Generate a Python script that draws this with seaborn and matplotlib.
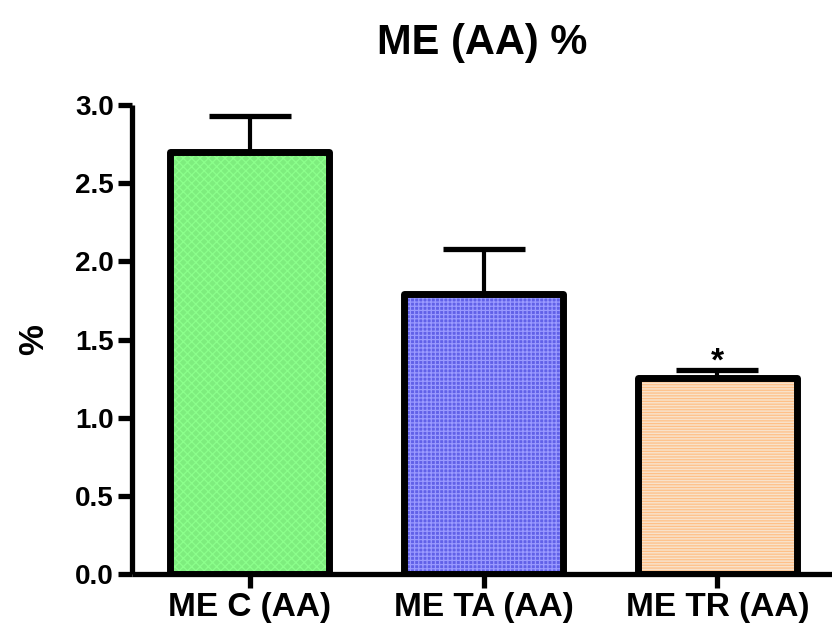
import matplotlib
matplotlib.use("Agg")
import matplotlib.pyplot as plt
import seaborn as sns
import pandas as pd
from matplotlib.patches import Rectangle

categories = ["ME C (AA)", "ME TA (AA)", "ME TR (AA)"]
means = [2.70, 1.79, 1.255]
errors = [0.23, 0.29, 0.05]
significance = ["", "", "*"]
y_ticks = [0.0, 0.5, 1.0, 1.5, 2.0, 2.5, 3.0]

face_colors = ["#6CFF6C", "#4A4AFF", "#FFE2C4"]
hatch_colors = ["#8CFF8C", "#9A9AFF", "#FFC088"]
hatches = ["xxxx", "++++", "------"]

sns.set_theme(style="ticks", rc={
    "text.color": "black", "axes.labelcolor": "black",
    "xtick.color": "black", "ytick.color": "black",
    "axes.edgecolor": "black"})
plt.rcParams["font.family"] = ["Liberation Sans", "DejaVu Sans"]
plt.rcParams["font.weight"] = "bold"
plt.rcParams["hatch.linewidth"] = 0.9

df = pd.DataFrame({"group": categories, "value": means})

fig = plt.figure(figsize=(8.32, 6.31), dpi=100)
ax = fig.add_axes([132 / 832, 1 - 574 / 631, 1 - 132 / 832, (574 - 105) / 631])

sns.barplot(data=df, x="group", y="value", hue="group", palette=face_colors,
            width=0.68, edgecolor="black", linewidth=0, errorbar=None,
            legend=False, ax=ax, zorder=2)

for i, p in enumerate(list(ax.patches)):
    r = Rectangle((p.get_x(), p.get_y()), p.get_width(), p.get_height(),
                  facecolor="none", edgecolor=hatch_colors[i], hatch=hatches[i],
                  linewidth=0, zorder=2.5)
    ax.add_patch(r)
    r2 = Rectangle((p.get_x(), p.get_y()), p.get_width(), p.get_height(),
                   facecolor="none", edgecolor="black", linewidth=5,
                   joinstyle="round", zorder=3)
    ax.add_patch(r2)

x = range(len(categories))
ax.errorbar(x, means, yerr=[[0] * len(errors), errors], fmt="none",
            ecolor="black", elinewidth=3, capsize=29.5, capthick=3.8, zorder=1)

for i, s in enumerate(significance):
    if s:
        ax.text(i, means[i] + errors[i] - 0.005, s, ha="center", va="baseline",
                fontsize=24, fontweight="bold")

ax.set_ylim(0, 3.0)
ax.set_xlim(-0.504, 2.49)
ax.set_yticks(y_ticks)
ax.set_yticklabels([f"{t:.1f}" for t in y_ticks])
ax.set_xlabel("")
ax.set_ylabel("%", fontsize=25, fontweight="bold", labelpad=18)
ax.set_title("ME (AA) %", fontsize=30, fontweight="bold", pad=37)

for s in ["top", "right"]:
    ax.spines[s].set_visible(False)
for s in ["left", "bottom"]:
    ax.spines[s].set_linewidth(3.8)
    ax.spines[s].set_capstyle("butt")
ax.tick_params(axis="both", width=3.8, length=10, pad=3)
ax.tick_params(axis="y", labelsize=20)
ax.tick_params(axis="x", labelsize=24)
for lab in ax.get_xticklabels() + ax.get_yticklabels():
    lab.set_fontweight("bold")

fig.savefig("out.png", dpi=100)
